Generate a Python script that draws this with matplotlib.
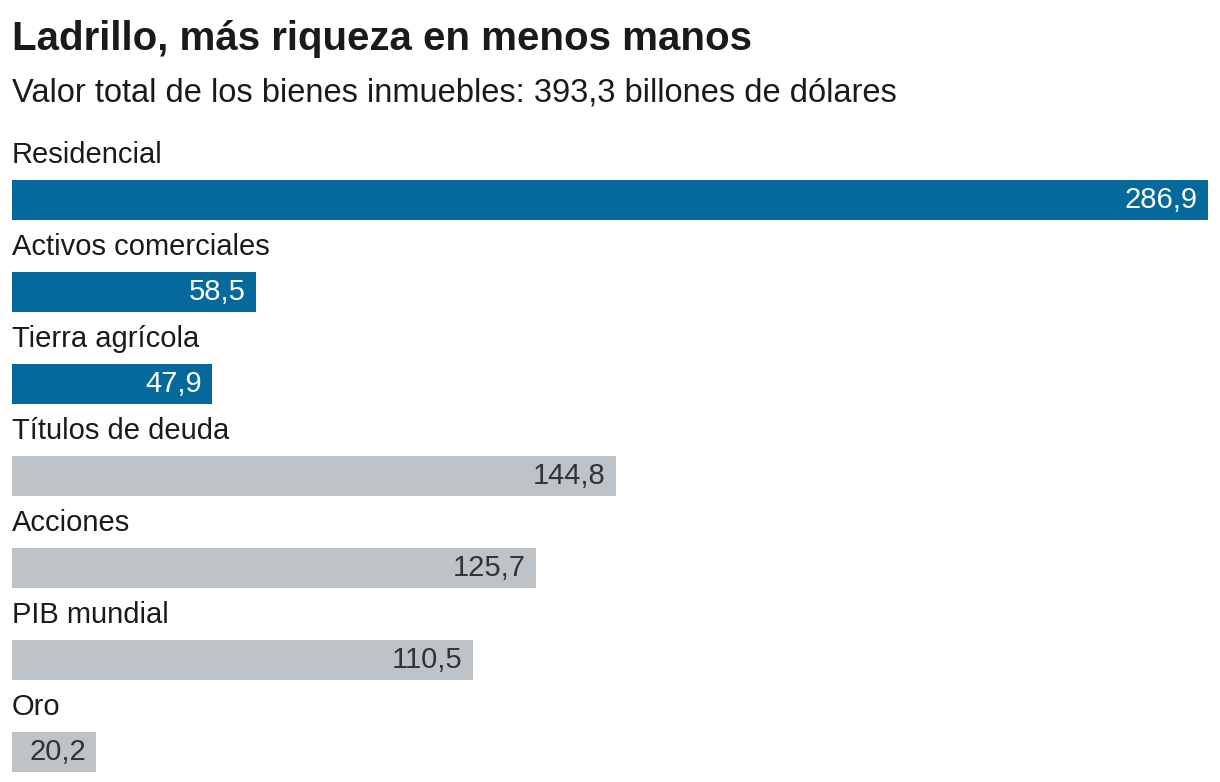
import matplotlib
matplotlib.use("Agg")
import matplotlib.pyplot as plt

# data
categories = ["Residencial", "Activos comerciales", "Tierra agrícola",
              "Títulos de deuda", "Acciones", "PIB mundial", "Oro"]
values = [286.9, 58.5, 47.9, 144.8, 125.7, 110.5, 20.2]
labels = ["286,9", "58,5", "47,9", "144,8", "125,7", "110,5", "20,2"]
real_estate = [True, True, True, False, False, False, False]

blue = "#06699b"
grey = "#bec3c7"

plt.rcParams['font.family'] = ['Liberation Sans', 'DejaVu Sans']

fig = plt.figure(figsize=(12.2, 7.82), dpi=100)
ax = fig.add_axes([12 / 1220, 0, 1196 / 1220, 1])

rows = list(range(len(categories)))
colors = [blue if r else grey for r in real_estate]
ax.barh(rows, values, height=40 / 92, color=colors, left=0)

for i, (cat, v, lab, r) in enumerate(zip(categories, values, labels, real_estate)):
    ax.text(0, i - 0.49, cat, ha='left', va='center', fontsize=21, color='#1a1a1a')
    ax.annotate(lab, (v, i), xytext=(-10, 0), textcoords='offset pixels',
                ha='right', va='center', fontsize=21,
                color='white' if r else '#333333')

ax.set_xlim(0, 286.9)
ax.set_ylim(6.326, -2.174)
ax.axis('off')

fig.text(12 / 1220, 1 - 39 / 782, "Ladrillo, más riqueza en menos manos",
         fontsize=29, fontweight='bold', color='#1a1a1a', va='center', ha='left')
fig.text(12 / 1220, 1 - 93 / 782, "Valor total de los bienes inmuebles: 393,3 billones de dólares",
         fontsize=23.5, color='#1a1a1a', va='center', ha='left')

fig.savefig("out.png", dpi=100)
